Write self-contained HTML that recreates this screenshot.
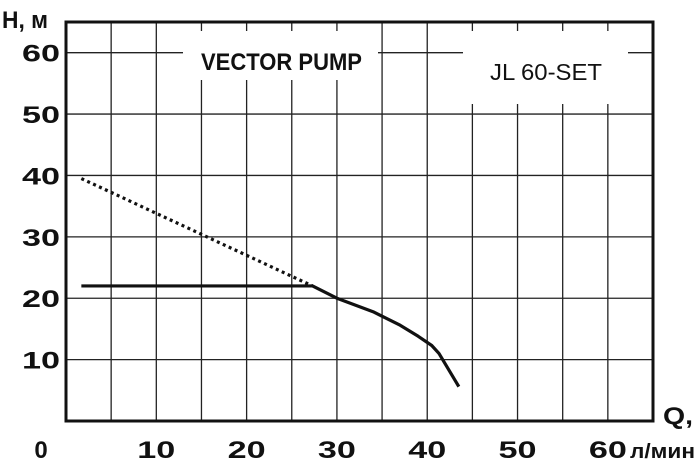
<!DOCTYPE html>
<html><head><meta charset="utf-8"><style>
html,body{margin:0;padding:0;background:#fff;}
svg{display:block;font-family:"Liberation Sans",sans-serif;}
</style></head><body>
<svg id="chart" width="700" height="470" viewBox="0 0 700 470">
<g id="grid"></g>
<rect x="183" y="31" width="195" height="49" fill="#fff"/>
<rect x="463" y="31" width="165" height="73" fill="#fff"/>
<g id="series"></g>
<rect x="66" y="22" width="587" height="399" fill="none" stroke="#111" stroke-width="3"/>
<text x="201" y="70" font-size="24" font-weight="bold" textLength="161" lengthAdjust="spacingAndGlyphs" fill="#111">VECTOR PUMP</text>
<text x="490" y="80" font-size="23" textLength="112" lengthAdjust="spacingAndGlyphs" fill="#111">JL 60-SET</text>
<text x="2" y="28" font-size="24" font-weight="bold" textLength="46" lengthAdjust="spacingAndGlyphs" fill="#111">H, м</text>
<text x="663" y="424" font-size="24" font-weight="bold" textLength="30" lengthAdjust="spacingAndGlyphs" fill="#111">Q,</text>
<text x="630" y="458" font-size="20" font-weight="bold" textLength="65" lengthAdjust="spacingAndGlyphs" fill="#111">л/мин</text>
<g id="ticks"></g>
</svg>
<script>
const xTicks = [10, 20, 30, 40, 50, 60];
const yTicks = [10, 20, 30, 40, 50, 60];
const curveQ = [1.7, 27.3, 30, 34, 37, 39, 40.5, 41.3, 43.5];
const curveH = [22, 22, 20, 17.8, 15.6, 13.8, 12.3, 11, 5.6];
const dotQ = [1.7, 27.3];
const dotH = [39.5, 22];

const x0 = 66, x1 = 653, y0 = 421, y1 = 22, xMax = 65, yMax = 65;
const sx = v => x0 + (x1 - x0) * v / xMax;
const sy = v => y0 - (y0 - y1) * v / yMax;
const NS = "http://www.w3.org/2000/svg";
function mk(tag, attrs, parent) {
  const e = document.createElementNS(NS, tag);
  for (const k in attrs) e.setAttribute(k, attrs[k]);
  parent.appendChild(e); return e;
}
const grid = document.getElementById('grid');
for (let q = 5; q < xMax; q += 5) {
  const l = mk('line', {x1: sx(q), x2: sx(q), y1: y1, y2: y0, stroke: '#222', 'stroke-width': 1.3}, grid);
  
  
}
for (let h = 10; h < yMax; h += 10) {
  const l = mk('line', {x1: x0, x2: x1, y1: sy(h), y2: sy(h), stroke: '#222', 'stroke-width': 1.3}, grid);
  
  
}
const series = document.getElementById('series');
const p1 = mk('polyline', {points: curveQ.map((q, i) => sx(q) + ',' + sy(curveH[i])).join(' '), fill: 'none', stroke: '#111', 'stroke-width': 3.2, 'stroke-linejoin': 'round'}, series);


const p2 = mk('polyline', {points: dotQ.map((q, i) => sx(q) + ',' + sy(dotH[i])).join(' '), fill: 'none', stroke: '#111', 'stroke-width': 3.2, 'stroke-dasharray': '3 3.5'}, series);


const ticks = document.getElementById('ticks');
xTicks.forEach(v => {
  const t = mk('text', {x: sx(v), y: 458, 'font-size': 24, 'font-weight': 'bold', 'text-anchor': 'middle', fill: '#111', textLength: 38, lengthAdjust: 'spacingAndGlyphs'}, ticks);
  t.textContent = v;
  
  
});
yTicks.forEach(v => {
  const t = mk('text', {x: 41, y: sy(v) + 9, 'font-size': 24, 'font-weight': 'bold', 'text-anchor': 'middle', fill: '#111', textLength: 38, lengthAdjust: 'spacingAndGlyphs'}, ticks);
  t.textContent = v;
  
  
});
const z = mk('text', {x: 41, y: 458, 'font-size': 24, 'font-weight': 'bold', 'text-anchor': 'middle', fill: '#111'}, ticks);
z.textContent = '0';


</script>
</body></html>
